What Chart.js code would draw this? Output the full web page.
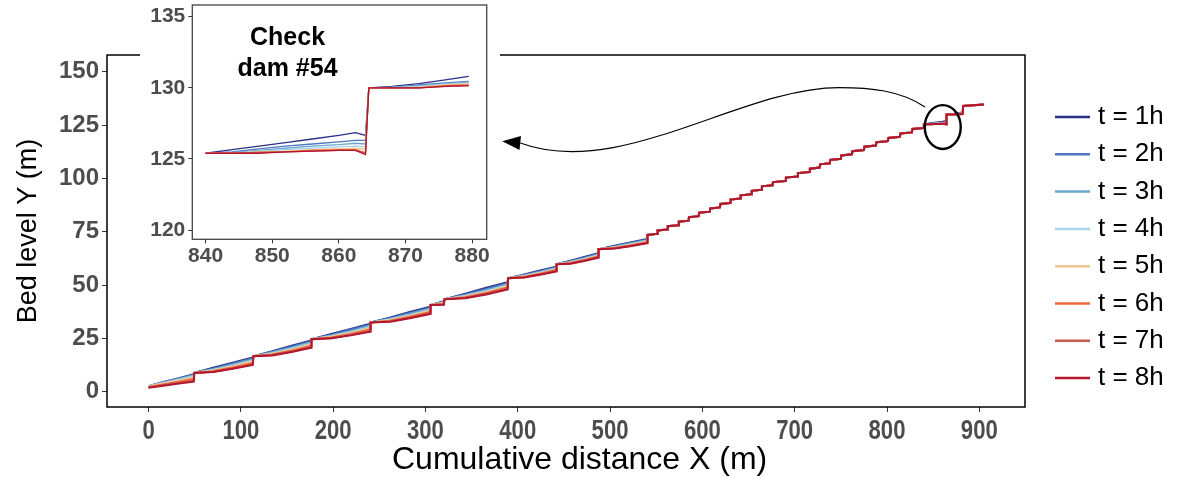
<!DOCTYPE html>
<html lang="en">
<head>
  <meta charset="UTF-8" />
  <title>Bed level profile</title>
  <script src="https://cdn.jsdelivr.net/npm/chart.js"></script>
  <style>
    body { margin: 0; background: #fff; }
    #wrap { position: relative; width: 1177px; height: 478px; }
    #inset { position: absolute; left: 140px; top: 0; width: 360px; height: 268px; background: #fff; }
  </style>
</head>
<body>
  <div id="wrap">
    <canvas id="mainChart" width="1177" height="478"></canvas>
    <div id="inset"><canvas id="insetChart" width="360" height="268"></canvas></div>
  </div>

  <script>
    // series names + colours
    const seriesLabels = ['t = 1h', 't = 2h', 't = 3h', 't = 4h', 't = 5h', 't = 6h', 't = 7h', 't = 8h'];
    const seriesColors = ['#2b3087', '#4b78c0', '#6aa6cf', '#a8d4ea', '#efc48e', '#f0673a', '#c9584f', '#b3172e'];

    const xTicks = [0, 100, 200, 300, 400, 500, 600, 700, 800, 900];
    const yTicks = [0, 25, 50, 75, 100, 125, 150];
    const insetXTicks = [840, 850, 860, 870, 880];
    const insetYTicks = [120, 125, 130, 135];

    // lower reach (0 - 540 m), dams further apart, profiles differ with time
    const distLower = [0, 16, 33, 49, 49.5, 70, 91, 113, 113.5, 134, 155, 176, 176.5, 198, 219, 240,
      240.5, 262, 283, 305, 305.5, 320, 320.5, 343, 366, 389, 389.5, 407, 424, 441.5,
      442, 457, 472, 487, 487.5, 505, 522, 540];
    const low1h = [2.6, 4.5, 6.3, 8.2, 8.8, 11.2, 13.6, 16.0, 16.6, 19.0, 21.6, 24.0, 24.6, 27.0, 29.4, 31.8,
      32.4, 34.8, 37.4, 39.8, 40.6, 42.4, 43.3, 45.9, 48.7, 51.3, 53.2, 55.0, 56.8, 58.6,
      59.7, 61.4, 63.2, 64.9, 66.8, 68.4, 70.0, 71.6];
    const low2h = [2.6, 4.4, 6.2, 8.0, 8.8, 10.8, 13.2, 15.6, 16.6, 18.7, 21.1, 23.6, 24.6, 26.6, 29.0, 31.4,
      32.4, 34.5, 36.9, 39.4, 40.6, 42.2, 43.3, 45.6, 48.2, 50.9, 53.2, 54.7, 56.5, 58.3,
      59.7, 61.2, 62.8, 64.6, 66.8, 68.2, 69.7, 71.3];
    const low3h = [2.6, 4.3, 5.9, 7.6, 8.8, 10.5, 12.6, 15.1, 16.6, 18.4, 20.6, 23.1, 24.6, 26.3, 28.4, 30.9,
      32.4, 34.2, 36.4, 38.9, 40.6, 42.0, 43.3, 45.2, 47.6, 50.4, 53.2, 54.5, 56.1, 58.0,
      59.7, 60.9, 62.5, 64.3, 66.8, 67.9, 69.4, 71.0];
    const low4h = [2.5, 4.1, 5.6, 7.2, 8.8, 10.2, 12.2, 14.6, 16.6, 18.0, 20.1, 22.6, 24.6, 26.0, 27.9, 30.3,
      32.4, 33.8, 35.9, 38.4, 40.6, 41.8, 43.3, 44.9, 47.1, 49.9, 53.2, 54.3, 55.8, 57.6,
      59.7, 60.7, 62.2, 64.0, 66.8, 67.7, 69.1, 70.7];
    const low5h = [2.4, 3.8, 5.2, 6.6, 8.8, 9.9, 11.8, 14.1, 16.6, 17.8, 19.7, 22.1, 24.6, 25.7, 27.5, 29.8,
      32.4, 33.6, 35.5, 37.9, 40.6, 41.6, 43.3, 44.6, 46.7, 49.4, 53.2, 54.1, 55.5, 57.3,
      59.7, 60.5, 61.9, 63.7, 66.8, 67.6, 68.8, 70.4];
    const low6h = [2.2, 3.4, 4.7, 5.9, 8.8, 9.6, 11.3, 13.5, 16.6, 17.4, 19.2, 21.5, 24.6, 25.4, 27.1, 29.2,
      32.4, 33.3, 35.1, 37.4, 40.6, 41.3, 43.3, 44.3, 46.3, 48.9, 53.2, 53.8, 55.3, 57.0,
      59.7, 60.3, 61.7, 63.4, 66.8, 67.4, 68.6, 70.1];
    const low7h = [2.0, 3.1, 4.2, 5.2, 8.8, 9.3, 10.9, 12.9, 16.6, 17.2, 18.9, 21.0, 24.6, 25.1, 26.7, 28.6,
      32.4, 33.0, 34.7, 36.9, 40.6, 41.0, 43.3, 44.0, 46.0, 48.4, 53.2, 53.6, 55.0, 56.6,
      59.7, 60.1, 61.5, 63.1, 66.8, 67.2, 68.4, 69.8];
    const low8h = [1.8, 2.8, 3.8, 4.7, 8.8, 9.2, 10.7, 12.5, 16.6, 17.0, 18.6, 20.6, 24.6, 25.0, 26.4, 28.1,
      32.4, 32.8, 34.4, 36.4, 40.6, 40.8, 43.3, 43.8, 45.6, 47.9, 53.2, 53.5, 54.8, 56.3,
      59.7, 60.0, 61.3, 62.8, 66.8, 67.1, 68.2, 69.6];

    // upper reach (540 - 840 m), closely spaced dams, all times overlap
    const distUpper = [540.5, 551, 551.5, 562, 562.5, 574, 574.5, 585, 585.5, 596, 596.5, 608, 608.5,
      619, 619.5, 630, 630.5, 641, 641.5, 653, 653.5, 664, 664.5, 676, 676.5, 690, 690.5,
      703, 703.5, 716, 716.5, 727, 727.5, 738, 738.5, 750, 750.5, 762, 762.5, 775, 775.5,
      788, 788.5, 801, 801.5, 814, 814.5, 827, 827.5, 839.6];
    const bedUpper = [73.5, 74.0, 75.6, 76.1, 77.6, 78.1, 79.7, 80.2, 81.8, 82.3, 83.9, 84.4, 85.9,
      86.4, 88.0, 88.5, 90.1, 90.6, 92.1, 92.6, 94.2, 94.7, 96.3, 96.8, 98.3, 98.8, 100.4,
      100.9, 102.5, 103.0, 104.6, 105.1, 106.6, 107.1, 108.7, 109.2, 110.8, 111.3, 112.8, 113.3, 114.9,
      115.4, 117.0, 117.5, 119.0, 119.5, 121.1, 121.6, 123.2, 123.7];

    // last reach around check dam #54
    const distTail = [840, 844, 848, 852, 856, 860, 862.5, 864, 864.5, 868, 872, 876, 879.5, 882, 882.5, 905];
    const tail1h = [125.4, 125.65, 125.9, 126.15, 126.4, 126.65, 126.85, 126.65, 130.0, 130.1, 130.3, 130.55, 130.8, 130.9, 134.0, 134.7];
    const tail2h = [125.4, 125.5, 125.7, 125.9, 126.05, 126.2, 126.3, 126.3, 130.0, 130.05, 130.2, 130.35, 130.45, 130.5, 134.0, 134.7];
    const tail3h = [125.4, 125.45, 125.6, 125.75, 125.9, 126.0, 126.1, 126.05, 130.0, 130.05, 130.15, 130.3, 130.4, 130.45, 134.0, 134.7];
    const tail4h = [125.4, 125.4, 125.55, 125.65, 125.75, 125.85, 125.9, 125.85, 130.0, 130.0, 130.1, 130.25, 130.35, 130.4, 134.0, 134.7];
    const tail5h = [125.4, 125.4, 125.5, 125.55, 125.65, 125.7, 125.75, 125.7, 130.0, 130.0, 130.05, 130.2, 130.3, 130.35, 134.0, 134.7];
    const tail6h = [125.4, 125.4, 125.45, 125.5, 125.6, 125.65, 125.65, 125.45, 130.0, 130.0, 130.0, 130.15, 130.2, 130.25, 134.0, 134.7];
    const tail7h = [125.4, 125.4, 125.45, 125.5, 125.55, 125.6, 125.6, 125.4, 130.0, 130.0, 130.0, 130.1, 130.15, 130.2, 134.0, 134.7];
    const tail8h = [125.4, 125.4, 125.4, 125.5, 125.55, 125.6, 125.6, 125.3, 130.0, 130.0, 130.0, 130.1, 130.15, 130.2, 134.0, 134.7];

    const lowSeries = [low1h, low2h, low3h, low4h, low5h, low6h, low7h, low8h];
    const tailSeries = [tail1h, tail2h, tail3h, tail4h, tail5h, tail6h, tail7h, tail8h];

    const FONT = "'Liberation Sans', Arial, sans-serif";

    function toPoints(xs, ys) {
      return xs.map((x, i) => ({ x: x, y: ys[i] }));
    }

    function seriesPoints(i) {
      return toPoints(distLower, lowSeries[i])
        .concat(toPoints(distUpper, bedUpper))
        .concat(toPoints(distTail, tailSeries[i]));
    }

    function makeSets(width, filterFn) {
      return seriesLabels.map((label, i) => ({
        label: label,
        data: filterFn ? seriesPoints(i).filter(filterFn) : seriesPoints(i),
        borderColor: seriesColors[i],
        borderWidth: width,
        fill: false,
        pointRadius: 0,
        tension: 0,
        order: seriesLabels.length - i  // t = 8h ends up on top
      }));
    }

    function fixedTicks(list) {
      return axis => { axis.ticks = list.map(v => ({ value: v })); };
    }

    // force the axis box size and drop the label overhang padding
    function fitAxis(prop, size) {
      return axis => {
        axis[prop] = size;
        axis.paddingTop = 0; axis.paddingBottom = 0;
        axis.paddingLeft = 0; axis.paddingRight = 0;
      };
    }

    const boxPlugin = {
      id: 'box',
      afterDraw(chart, args, opts) {
        const { ctx, chartArea: a } = chart;
        ctx.save();
        ctx.strokeStyle = opts.color;
        ctx.lineWidth = opts.width;
        ctx.strokeRect(a.left, a.top, a.right - a.left, a.bottom - a.top);
        ctx.restore();
      }
    };

    // x tick labels in the reference are condensed, squeeze them a bit; title drawn here too
    const xAxisText = {
      id: 'xAxisText',
      afterDraw(chart) {
        const { ctx, scales: { x } } = chart;
        ctx.save();
        ctx.font = 'bold 27px ' + FONT;
        ctx.fillStyle = '#4d4d4d';
        ctx.textAlign = 'center';
        ctx.textBaseline = 'middle';
        xTicks.forEach(v => {
          ctx.save();
          ctx.translate(x.getPixelForValue(v), x.top + 25);
          ctx.scale(0.82, 1);
          ctx.fillText(String(v), 0, 0);
          ctx.restore();
        });
        ctx.font = '32px ' + FONT;
        ctx.fillStyle = '#000';
        ctx.fillText('Cumulative distance X (m)', x.getPixelForValue(467), x.top + 53);
        ctx.restore();
      }
    };

    const sideLegend = {
      id: 'sideLegend',
      afterDraw(chart) {
        const ctx = chart.ctx;
        ctx.save();
        ctx.font = '26px ' + FONT;
        ctx.textBaseline = 'middle';
        seriesLabels.forEach((label, i) => {
          const y = 117 + i * 37.3;
          ctx.strokeStyle = seriesColors[i];
          ctx.lineWidth = 2.5;
          ctx.beginPath();
          ctx.moveTo(1055, y);
          ctx.lineTo(1090, y);
          ctx.stroke();
          ctx.fillStyle = '#000';
          ctx.fillText(label, 1098, y);
        });
        ctx.restore();
      }
    };

    // circle round dam #54 and the arrow to the inset
    const callout = {
      id: 'callout',
      afterDraw(chart) {
        const { ctx, scales: { x, y } } = chart;
        const px = v => x.getPixelForValue(v);
        const py = v => y.getPixelForValue(v);
        ctx.save();
        ctx.strokeStyle = '#000';
        ctx.lineWidth = 2.4;
        ctx.beginPath();
        ctx.ellipse(px(860.4), py(124.1), px(879.9) - px(860.4), py(124.1) - py(134.4), 0, 0, Math.PI * 2);
        ctx.stroke();

        ctx.lineWidth = 1.1;
        ctx.beginPath();
        ctx.moveTo(px(841.2), py(133.5));
        ctx.bezierCurveTo(px(814.1), py(141.4), px(781.6), py(142.6), px(748.1), py(142.6));
        ctx.bezierCurveTo(px(640.9), py(142.6), px(511.0), py(99.3), px(402.7), py(116.6));
        ctx.stroke();

        const tx = px(383.2), ty = py(117.5), bx = px(402.7), by = py(116.6);
        const len = Math.hypot(bx - tx, by - ty);
        const nx = -(by - ty) / len * 7, ny = (bx - tx) / len * 7;
        ctx.fillStyle = '#000';
        ctx.beginPath();
        ctx.moveTo(tx, ty);
        ctx.lineTo(bx + nx, by + ny);
        ctx.lineTo(bx - nx, by - ny);
        ctx.closePath();
        ctx.fill();
        ctx.restore();
      }
    };

    const insetText = {
      id: 'insetText',
      afterDraw(chart) {
        const { ctx, scales: { x, y } } = chart;
        ctx.save();
        ctx.font = 'bold 25px ' + FONT;
        ctx.fillStyle = '#000';
        ctx.textAlign = 'center';
        ctx.textBaseline = 'middle';
        ctx.fillText('Check', x.getPixelForValue(852.3), y.getPixelForValue(133.5));
        ctx.fillText('dam #54', x.getPixelForValue(852.3), y.getPixelForValue(131.3));
        ctx.restore();
      }
    };

    new Chart(document.getElementById('mainChart'), {
      type: 'line',
      data: { datasets: makeSets(2) },
      options: {
        responsive: false,
        animation: false,
        layout: { padding: { top: 55, right: 152, left: 0, bottom: 0 } },
        plugins: {
          legend: { display: false },
          tooltip: { enabled: false },
          box: { color: '#000', width: 1.5 }
        },
        scales: {
          x: {
            type: 'linear',
            min: -45,
            max: 949.5,
            afterFit: fitAxis('height', 71),
            afterBuildTicks: fixedTicks(xTicks),
            grid: { drawOnChartArea: false, tickLength: 5, tickColor: '#333' },
            border: { display: false },
            ticks: { display: false }
          },
          y: {
            type: 'linear',
            min: -7.2,
            max: 157.9,
            afterFit: fitAxis('width', 107),
            afterBuildTicks: fixedTicks(yTicks),
            grid: { drawOnChartArea: false, tickLength: 5, tickColor: '#333' },
            border: { display: false },
            ticks: { color: '#4d4d4d', font: { family: FONT, size: 24, weight: 'bold' }, padding: 3 },
            title: { display: true, text: 'Bed level Y (m)', color: '#000', font: { family: FONT, size: 27 }, padding: { top: 12, bottom: 0 } }
          }
        }
      },
      plugins: [boxPlugin, xAxisText, sideLegend, callout]
    });

    new Chart(document.getElementById('insetChart'), {
      type: 'line',
      data: { datasets: makeSets(1.3, p => p.x >= 840 && p.x <= 880) },
      options: {
        responsive: false,
        animation: false,
        layout: { padding: { top: 5, right: 13.3, left: 0, bottom: 0 } },
        plugins: {
          legend: { display: false },
          tooltip: { enabled: false },
          box: { color: '#444', width: 1.3 }
        },
        scales: {
          x: {
            type: 'linear',
            min: 838,
            max: 882.2,
            afterFit: fitAxis('height', 28.7),
            afterBuildTicks: fixedTicks(insetXTicks),
            grid: { drawOnChartArea: false, tickLength: 4, tickColor: '#333' },
            border: { display: false },
            ticks: { color: '#4d4d4d', font: { family: FONT, size: 21, weight: 'bold' }, padding: 0, maxRotation: 0, autoSkip: false }
          },
          y: {
            type: 'linear',
            min: 119.35,
            max: 135.82,
            afterFit: fitAxis('width', 52.3),
            afterBuildTicks: fixedTicks(insetYTicks),
            grid: { drawOnChartArea: false, tickLength: 4, tickColor: '#333' },
            border: { display: false },
            ticks: { color: '#4d4d4d', font: { family: FONT, size: 21, weight: 'bold' }, padding: 3 }
          }
        }
      },
      plugins: [boxPlugin, insetText]
    });
  </script>
</body>
</html>
